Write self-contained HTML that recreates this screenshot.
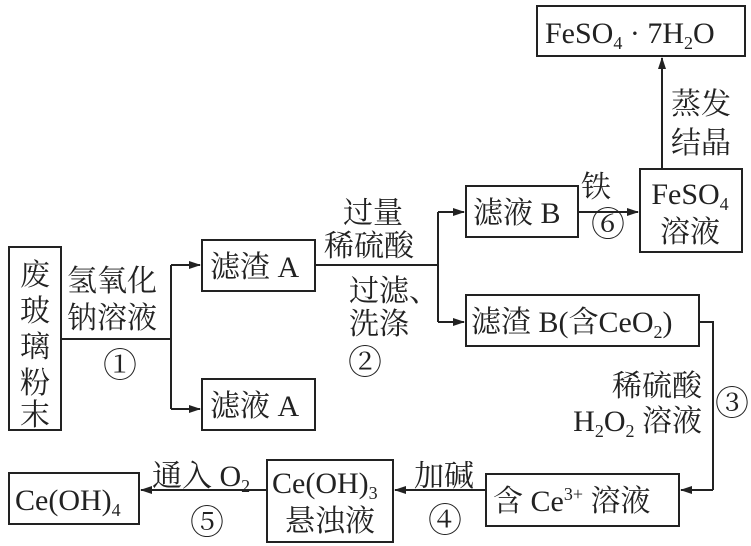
<!DOCTYPE html>
<html><head><meta charset="utf-8"><style>
html,body{margin:0;padding:0;background:#fff}
svg{display:block}
text{font-family:"Liberation Serif","Noto Serif CJK SC",serif;font-size:30px;fill:#222}
.s{font-size:18px}
.c{font-size:34px}
</style></head><body>
<svg width="751" height="546" viewBox="0 0 751 546" xmlns="http://www.w3.org/2000/svg">
<defs><marker id="a" markerWidth="12" markerHeight="8" refX="11" refY="4" orient="auto" markerUnits="userSpaceOnUse"><path d="M0,0 L12,4 L0,8 Z" fill="#222"/></marker></defs>
<g fill="none" stroke="#222" stroke-width="2">
<rect x="9" y="247" width="52" height="183"/>
<rect x="202" y="240" width="113" height="51"/>
<rect x="202" y="379" width="113" height="51"/>
<rect x="466" y="186" width="112" height="51"/>
<rect x="640" y="169" width="102" height="83"/>
<rect x="537" y="6" width="208" height="50"/>
<rect x="466" y="295" width="233" height="51"/>
<rect x="486" y="474" width="193" height="52"/>
<rect x="267" y="460" width="126" height="82"/>
<rect x="9" y="473" width="130" height="51"/>
<path d="M61 339 H171 M171 265 V409"/>
<path d="M171 265 H200" marker-end="url(#a)"/>
<path d="M171 409 H200" marker-end="url(#a)"/>
<path d="M315 265 H438 M438 212 V322"/>
<path d="M438 212 H464" marker-end="url(#a)"/>
<path d="M438 322 H464" marker-end="url(#a)"/>
<path d="M578 212 H638" marker-end="url(#a)"/>
<path d="M662 169 V58" marker-end="url(#a)"/>
<path d="M699 322 H713 V490"/>
<path d="M713 490 H681" marker-end="url(#a)"/>
<path d="M486 490 H395" marker-end="url(#a)"/>
<path d="M267 490 H141" marker-end="url(#a)"/>
</g>
<text x="35" y="285" text-anchor="middle">废</text>
<text x="35" y="321" text-anchor="middle">玻</text>
<text x="35" y="357" text-anchor="middle">璃</text>
<text x="35" y="393" text-anchor="middle">粉</text>
<text x="35" y="425" text-anchor="middle">末</text>
<text x="67" y="291">氢氧化</text>
<text x="67" y="328">钠溶液</text>
<text class="c" x="120" y="377" text-anchor="middle">①</text>
<text x="210" y="277">滤渣 A</text>
<text x="210" y="416">滤液 A</text>
<text x="343" y="223">过量</text>
<text x="324" y="256">稀硫酸</text>
<text x="349" y="301">过滤、</text>
<text x="349" y="334">洗涤</text>
<text class="c" x="365" y="374" text-anchor="middle">②</text>
<text x="473" y="223">滤液 B</text>
<text x="596" y="197" text-anchor="middle">铁</text>
<text class="c" x="608" y="236" text-anchor="middle">⑥</text>
<text x="690" y="204" text-anchor="middle">FeSO<tspan class="s" dy="6">4</tspan></text>
<text x="690" y="242" text-anchor="middle">溶液</text>
<text x="545" y="43">FeSO<tspan class="s" dy="6">4</tspan><tspan dy="-6"> · 7H</tspan><tspan class="s" dy="6">2</tspan><tspan dy="-6">O</tspan></text>
<text x="671" y="114">蒸发</text>
<text x="671" y="153">结晶</text>
<text x="471" y="332">滤渣 B(含CeO<tspan class="s" dy="6">2</tspan><tspan dy="-6">)</tspan></text>
<text x="702" y="396" text-anchor="end">稀硫酸</text>
<text x="702" y="431" text-anchor="end">H<tspan class="s" dy="6">2</tspan><tspan dy="-6">O</tspan><tspan class="s" dy="6">2</tspan><tspan dy="-6"> 溶液</tspan></text>
<text class="c" x="732" y="415" text-anchor="middle">③</text>
<text x="493" y="511">含 Ce<tspan class="s" dy="-11">3+</tspan><tspan dy="11"> 溶液</tspan></text>
<text x="414" y="486">加碱</text>
<text class="c" x="445" y="532" text-anchor="middle">④</text>
<text x="272" y="493">Ce(OH)<tspan class="s" dy="6">3</tspan></text>
<text x="285" y="531">悬浊液</text>
<text x="152" y="486">通入 O<tspan class="s" dy="6">2</tspan></text>
<text class="c" x="207" y="534" text-anchor="middle">⑤</text>
<text x="15" y="510">Ce(OH)<tspan class="s" dy="6">4</tspan></text>
</svg>
</body></html>
